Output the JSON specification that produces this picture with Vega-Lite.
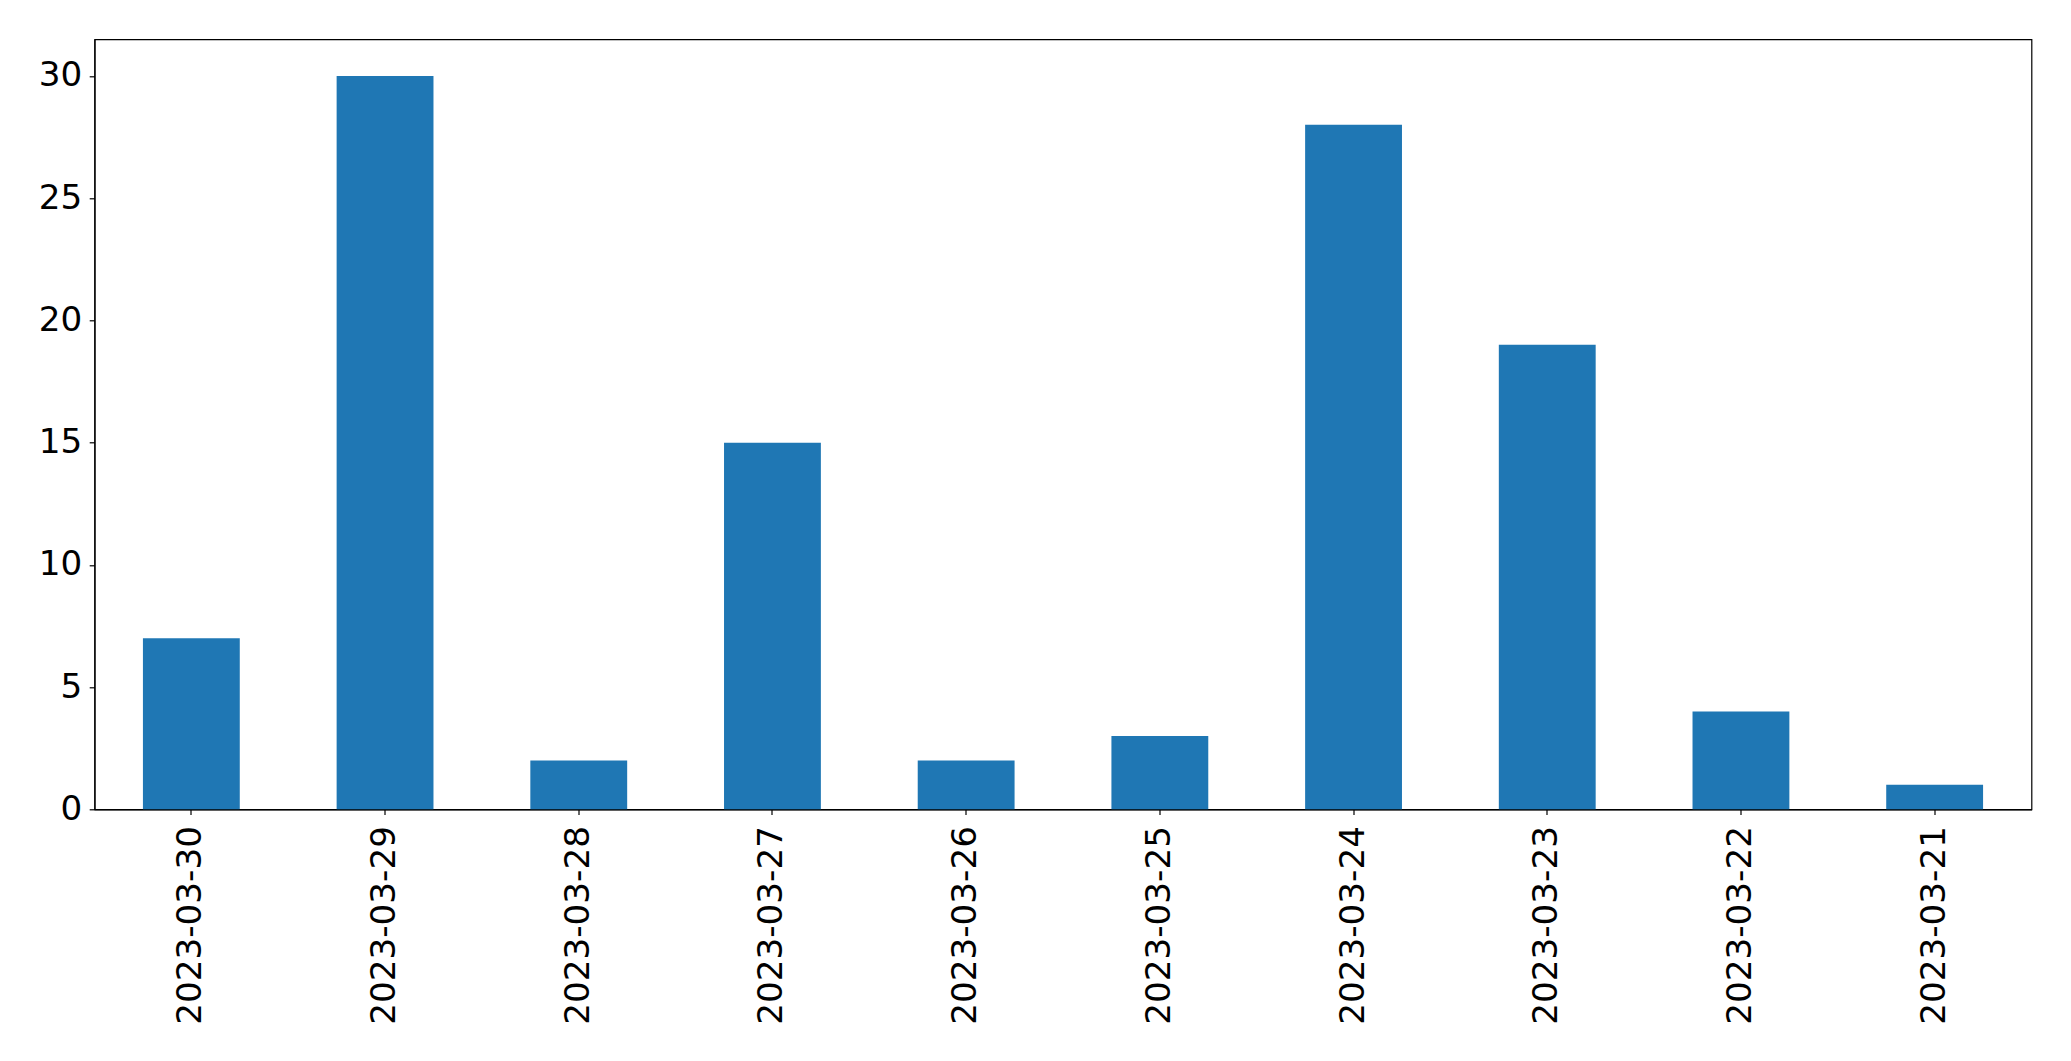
{
  "$schema": "https://vega.github.io/schema/vega-lite/v6.json",
  "width": 1937,
  "height": 770,
  "autosize": "none",
  "padding": {"left": 94.5, "top": 39.3, "right": 40, "bottom": 252},
  "background": "white",
  "config": {
    "view": {"stroke": "black", "strokeWidth": 1.2},
    "font": "DejaVu Sans"
  },
  "data": {
    "values": [
      {"date": "2023-03-30", "count": 7},
      {"date": "2023-03-29", "count": 30},
      {"date": "2023-03-28", "count": 2},
      {"date": "2023-03-27", "count": 15},
      {"date": "2023-03-26", "count": 2},
      {"date": "2023-03-25", "count": 3},
      {"date": "2023-03-24", "count": 28},
      {"date": "2023-03-23", "count": 19},
      {"date": "2023-03-22", "count": 4},
      {"date": "2023-03-21", "count": 1}
    ]
  },
  "mark": {"type": "bar", "color": "#1f77b4"},
  "encoding": {
    "x": {
      "field": "date",
      "type": "nominal",
      "sort": null,
      "scale": {"paddingInner": 0.5, "paddingOuter": 0.25},
      "axis": {
        "title": null,
        "labelAngle": -90,
        "labelFontSize": 34.2,
        "labelLimit": 0,
        "labelColor": "black",
        "labelFont": "DejaVu Sans",
        "labelPadding": 11,
        "tickSize": 5.3,
        "tickColor": "black",
        "tickWidth": 1.2,
        "domainColor": "black",
        "domainWidth": 1.2,
        "grid": false
      }
    },
    "y": {
      "field": "count",
      "type": "quantitative",
      "scale": {"domain": [0, 31.5], "nice": false},
      "axis": {
        "title": null,
        "values": [0, 5, 10, 15, 20, 25, 30],
        "labelFontSize": 34.2,
        "labelColor": "black",
        "labelFont": "DejaVu Sans",
        "labelPadding": 7.5,
        "tickSize": 5.3,
        "tickColor": "black",
        "tickWidth": 1.2,
        "domainColor": "black",
        "domainWidth": 1.2,
        "grid": false
      }
    }
  }
}
